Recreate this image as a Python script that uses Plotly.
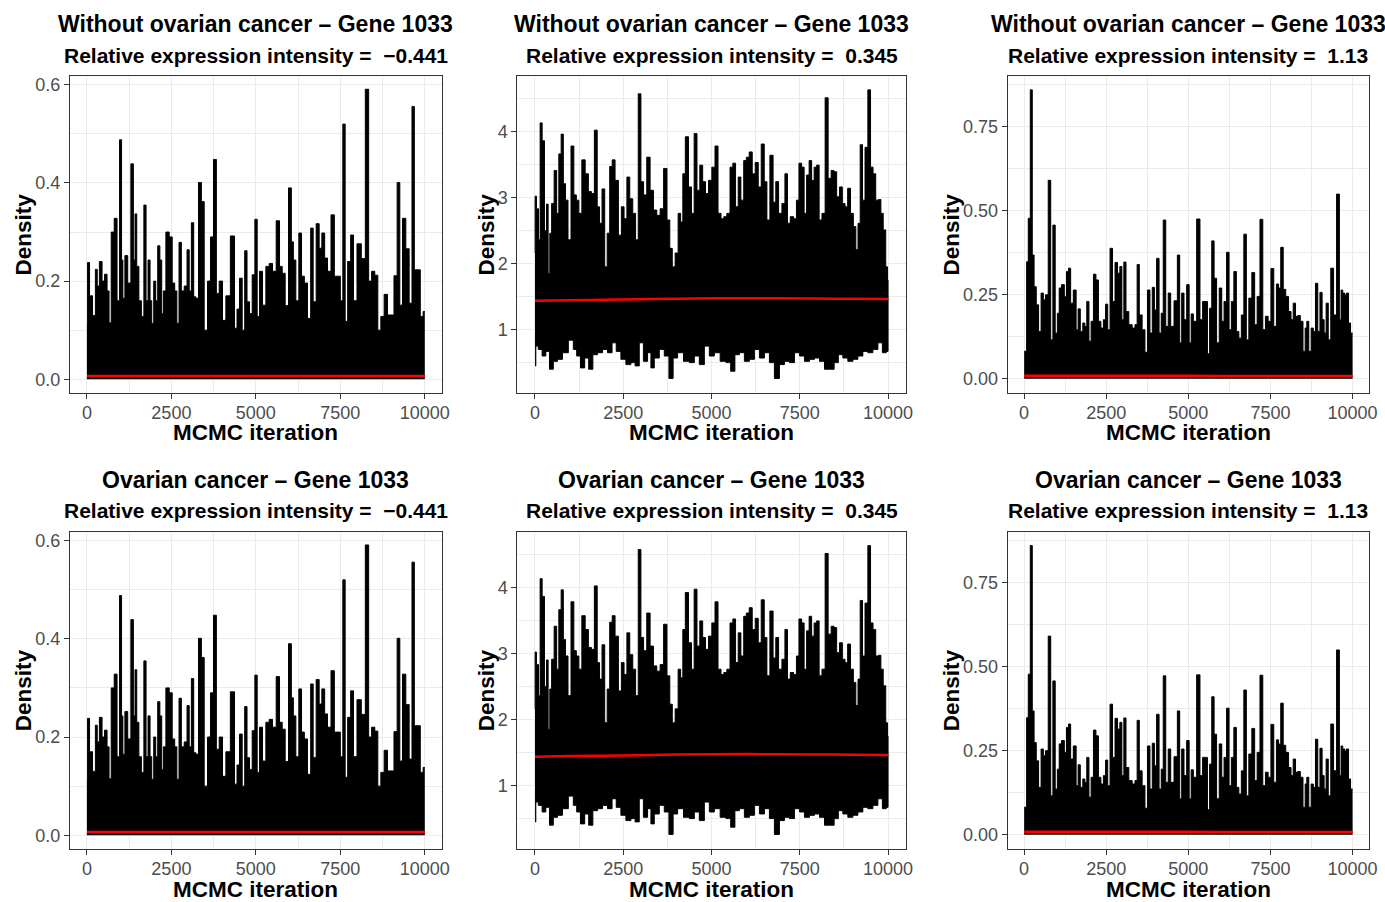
import plotly.graph_objects as go

# ---------------------------------------------------------------------------
# Posterior density traces for gene 1033 at three expression intensities.
# Each trace is stored as its visible upper edge (and lower edge where the
# trace does not sit on zero), keyed by MCMC iteration.
# ---------------------------------------------------------------------------

intensity_labels = ["\u22120.441", "0.345", "1.13"]
groups = ["Without ovarian cancer", "Ovarian cancer"]
gene = "Gene 1033"

# intensity -0.441
p1_iter = [1, 39, 118, 217, 286, 325, 414, 483, 562, 631, 680, 759, 858, 927, 1006, 1045,
           1085, 1164, 1252, 1351, 1400, 1450, 1499, 1578, 1647, 1726, 1775, 1844, 1894, 1943,
           2012, 2061, 2130, 2189, 2239, 2288, 2387, 2485, 2564, 2633, 2692, 2761, 2830, 2929,
           2998, 3057, 3126, 3195, 3254, 3353, 3422, 3521, 3619, 3698, 3797, 3866, 3964, 4063,
           4162, 4330, 4408, 4477, 4556, 4635, 4704, 4773, 4852, 4931, 5010, 5069, 5148, 5247,
           5345, 5444, 5543, 5661, 5740, 5819, 5917, 6016, 6085, 6134, 6233, 6312, 6391, 6479,
           6578, 6667, 6726, 6844, 6903, 7002, 7071, 7170, 7278, 7367, 7465, 7535, 7613, 7673,
           7761, 7850, 7929, 8057, 8185, 8294, 8383, 8471, 8570, 8649, 8748, 8846, 8945, 9043,
           9132, 9231, 9290, 9389, 9487, 9586, 9655, 9724, 9832, 9901, 10000]
p1_upper = [0.11, 0.238, 0.17, 0.13, 0.224, 0.19, 0.24, 0.2, 0.214, 0.18, 0.115, 0.30, 0.328,
            0.16, 0.488, 0.243, 0.165, 0.252, 0.196, 0.439, 0.243, 0.337, 0.23, 0.16, 0.128,
            0.355, 0.16, 0.243, 0.16, 0.114, 0.2, 0.16, 0.272, 0.243, 0.134, 0.18, 0.30, 0.29,
            0.196, 0.18, 0.114, 0.279, 0.18, 0.19, 0.264, 0.18, 0.319, 0.168, 0.165, 0.401,
            0.362, 0.1, 0.2, 0.29, 0.448, 0.175, 0.2, 0.12, 0.17, 0.292, 0.104, 0.143, 0.206,
            0.1, 0.262, 0.158, 0.134, 0.213, 0.326, 0.128, 0.22, 0.151, 0.23, 0.236, 0.22,
            0.323, 0.23, 0.216, 0.15, 0.39, 0.28, 0.243, 0.16, 0.298, 0.21, 0.196, 0.124, 0.308,
            0.158, 0.317, 0.267, 0.298, 0.247, 0.22, 0.335, 0.21, 0.21, 0.16, 0.52, 0.118, 0.24,
            0.294, 0.16, 0.276, 0.246, 0.591, 0.2, 0.22, 0.212, 0.1, 0.128, 0.173, 0.131, 0.131,
            0.211, 0.401, 0.151, 0.328, 0.266, 0.155, 0.556, 0.223, 0.223, 0.128, 0.138]

# intensity 0.345
p2_up_iter = [1, 9, 76, 123, 170, 236, 302, 350, 397, 444, 501, 586, 643, 709, 775, 832, 898,
              974, 1068, 1134, 1210, 1276, 1380, 1465, 1560, 1635, 1730, 1796, 1862, 1938, 2013,
              2079, 2155, 2221, 2316, 2410, 2486, 2561, 2647, 2722, 2817, 2883, 2968, 3034, 3119,
              3214, 3308, 3403, 3497, 3592, 3696, 3781, 3856, 3923, 4017, 4093, 4159, 4216, 4301,
              4395, 4471, 4546, 4631, 4707, 4792, 4868, 4962, 5057, 5142, 5227, 5312, 5388, 5482,
              5567, 5643, 5719, 5794, 5870, 5955, 6021, 6116, 6191, 6286, 6361, 6456, 6531, 6607,
              6701, 6787, 6853, 6947, 7042, 7117, 7184, 7278, 7373, 7439, 7514, 7590, 7656, 7732,
              7798, 7874, 7940, 8015, 8081, 8176, 8261, 8346, 8431, 8507, 8583, 8668, 8743, 8819,
              8894, 8979, 9055, 9121, 9178, 9244, 9310, 9386, 9471, 9537, 9613, 9688, 9764, 9830,
              9896, 9972, 10000]
p2_upper = [2.16, 3.02, 2.83, 2.36, 4.13, 3.86, 2.5, 2.9, 1.85, 2.46, 2.91, 3.41, 2.76, 3.66,
            3.96, 3.21, 2.96, 2.36, 3.78, 3.04, 2.96, 2.76, 3.57, 3.36, 3.09, 3.06, 4.02, 2.86,
            2.61, 3.13, 1.95, 2.46, 3.47, 3.57, 3.26, 2.43, 2.86, 2.68, 3.31, 2.98, 2.76, 2.36,
            4.57, 3.24, 3.04, 3.61, 3.11, 2.81, 2.73, 2.83, 3.44, 2.66, 2.23, 1.95, 2.16, 2.76,
            2.63, 3.36, 3.92, 3.16, 2.76, 3.97, 3.11, 3.49, 3.24, 3.06, 3.26, 3.46, 3.78, 2.76,
            2.68, 2.71, 2.76, 3.46, 3.52, 2.86, 3.31, 2.96, 3.56, 3.61, 3.69, 3.36, 3.53, 3.16,
            3.81, 3.24, 2.66, 3.64, 2.93, 3.24, 2.76, 2.91, 3.36, 2.61, 2.71, 2.68, 2.96, 3.52,
            3.46, 2.76, 3.34, 3.56, 3.26, 3.46, 3.49, 2.66, 2.76, 4.51, 3.29, 3.41, 3.39, 3.01,
            3.16, 2.91, 2.86, 3.14, 2.76, 2.56, 2.21, 2.61, 3.80, 2.96, 3.76, 4.63, 3.46, 3.36,
            2.96, 2.97, 2.76, 2.51, 1.95, 1.75]
p2_lo_iter = [1, 47, 142, 265, 350, 473, 567, 709, 851, 1040, 1134, 1229, 1352, 1465, 1578,
              1701, 1843, 1985, 2127, 2240, 2363, 2505, 2647, 2788, 2883, 3025, 3119, 3261, 3308,
              3450, 3592, 3733, 3856, 3970, 4112, 4301, 4442, 4584, 4726, 4868, 5010, 5151, 5340,
              5482, 5605, 5719, 5860, 6002, 6144, 6286, 6427, 6569, 6711, 6853, 6994, 7136, 7278,
              7420, 7562, 7703, 7845, 7987, 8129, 8271, 8412, 8535, 8649, 8790, 8932, 9074, 9216,
              9357, 9499, 9641, 9783, 9896, 10000]
p2_lower = [0.45, 0.75, 0.70, 0.6, 0.67, 0.40, 0.52, 0.55, 0.65, 0.84, 0.7, 0.6, 0.42, 0.57,
            0.40, 0.62, 0.65, 0.7, 0.65, 0.8, 0.67, 0.55, 0.47, 0.5, 0.45, 0.8, 0.52, 0.65, 0.42,
            0.57, 0.7, 0.6, 0.26, 0.57, 0.65, 0.52, 0.5, 0.6, 0.47, 0.75, 0.6, 0.65, 0.52, 0.5,
            0.37, 0.62, 0.65, 0.52, 0.55, 0.7, 0.57, 0.65, 0.5, 0.26, 0.47, 0.52, 0.5, 0.65, 0.6,
            0.52, 0.55, 0.57, 0.52, 0.40, 0.40, 0.5, 0.62, 0.57, 0.52, 0.55, 0.6, 0.67, 0.65,
            0.7, 0.8, 0.65, 0.67]

# intensity 1.13
p3_iter = [1, 51, 101, 152, 223, 273, 334, 405, 476, 557, 617, 688, 779, 840, 911, 982, 1042,
           1093, 1184, 1265, 1316, 1386, 1447, 1548, 1619, 1670, 1751, 1822, 1872, 1943, 2004,
           2075, 2146, 2227, 2297, 2378, 2449, 2510, 2581, 2651, 2732, 2803, 2884, 2945, 3006,
           3066, 3137, 3238, 3340, 3410, 3471, 3542, 3643, 3714, 3795, 3866, 3937, 3997, 4068,
           4149, 4200, 4271, 4352, 4422, 4503, 4625, 4706, 4767, 4827, 4908, 4989, 5060, 5111,
           5192, 5313, 5394, 5475, 5546, 5617, 5677, 5748, 5819, 5900, 5981, 6052, 6123, 6204,
           6274, 6345, 6426, 6497, 6578, 6649, 6730, 6801, 6882, 6983, 7054, 7135, 7226, 7307,
           7388, 7469, 7560, 7641, 7722, 7772, 7853, 7924, 8005, 8096, 8157, 8228, 8298, 8369,
           8450, 8531, 8582, 8632, 8703, 8774, 8835, 8906, 8976, 9037, 9108, 9159, 9230, 9290,
           9381, 9462, 9563, 9634, 9665, 9735, 9786, 9847, 9908, 9969, 10000]
p3_upper = [0.082, 0.082, 0.348, 0.477, 0.859, 0.368, 0.274, 0.22, 0.141, 0.255, 0.235, 0.25,
            0.59, 0.116, 0.457, 0.136, 0.195, 0.27, 0.28, 0.245, 0.319, 0.329, 0.225, 0.264,
            0.146, 0.208, 0.141, 0.166, 0.156, 0.23, 0.112, 0.171, 0.311, 0.294, 0.171, 0.151,
            0.176, 0.222, 0.146, 0.388, 0.23, 0.346, 0.314, 0.334, 0.176, 0.347, 0.2, 0.161,
            0.151, 0.161, 0.34, 0.19, 0.146, 0.079, 0.264, 0.136, 0.272, 0.205, 0.358, 0.136,
            0.195, 0.472, 0.156, 0.255, 0.156, 0.232, 0.368, 0.107, 0.255, 0.176, 0.28, 0.107,
            0.193, 0.171, 0.475, 0.176, 0.23, 0.23, 0.075, 0.21, 0.41, 0.299, 0.107, 0.27,
            0.171, 0.23, 0.376, 0.146, 0.23, 0.319, 0.141, 0.121, 0.19, 0.43, 0.116, 0.24, 0.316,
            0.161, 0.245, 0.474, 0.146, 0.186, 0.171, 0.328, 0.156, 0.282, 0.27, 0.391, 0.266,
            0.245, 0.2, 0.176, 0.225, 0.186, 0.188, 0.171, 0.082, 0.151, 0.171, 0.082, 0.151,
            0.141, 0.284, 0.141, 0.257, 0.176, 0.136, 0.225, 0.116, 0.329, 0.19, 0.549, 0.176,
            0.264, 0.255, 0.25, 0.255, 0.166, 0.136, 0.136]

# smoothed running mean of each trace
smooth_iter = [1, 1000, 2000, 3000, 4000, 5000, 6000, 7000, 8000, 9000, 10000]
p1_smooth = [0.0068, 0.0068, 0.0068, 0.0068, 0.0068, 0.0068, 0.0068, 0.0068, 0.0068, 0.0068, 0.0068]
p2_smooth = [1.437, 1.445, 1.452, 1.460, 1.468, 1.474, 1.476, 1.474, 1.470, 1.466, 1.462]
p3_smooth = [0.0092, 0.0091, 0.0090, 0.0090, 0.0089, 0.0089, 0.0088, 0.0088, 0.0087, 0.0087, 0.0086]

# axes
x_ticks = [0, 2500, 5000, 7500, 10000]
x_labels = ["0", "2500", "5000", "7500", "10000"]
x_minor = [1250, 3750, 6250, 8750]

y_ranges = [[-0.028, 0.618], [0.04, 4.84], [-0.042, 0.9]]
y_ticks = [[0.0, 0.2, 0.4, 0.6], [1, 2, 3, 4], [0.0, 0.25, 0.5, 0.75]]
y_labels = [["0.0", "0.2", "0.4", "0.6"], ["1", "2", "3", "4"], ["0.00", "0.25", "0.50", "0.75"]]
y_minor = [[0.1, 0.3, 0.5], [0.5, 1.5, 2.5, 3.5, 4.5], [0.125, 0.375, 0.625, 0.875]]

# page geometry (pixels)
W, H = 1385, 902
col_px = [(70, 441.7), (517.3, 905.7), (1007.7, 1369)]
row_px = [(76, 393), (531.7, 849)]
density_x = [23, 486, 951]

FONT = "Liberation Sans, Arial, Helvetica, sans-serif"
GRID = "#EBEBEB"
FRAME = "#333333"

fig = go.Figure()
layout = dict(
    width=W, height=H, autosize=False,
    margin=dict(l=0, r=0, t=0, b=0, autoexpand=False),
    paper_bgcolor="white", plot_bgcolor="white",
    showlegend=False,
    font=dict(family=FONT),
)
annotations = []

for r, group in enumerate(groups):
    for c in range(3):
        n = r * 3 + c + 1
        xa = "x" if n == 1 else f"x{n}"
        ya = "y" if n == 1 else f"y{n}"
        x0, x1 = col_px[c]
        y0, y1 = row_px[r]

        # trace body
        if c == 0:
            tx, ty, fill = p1_iter, p1_upper, "tozeroy"
            sm = p1_smooth
        elif c == 1:
            tx = p2_up_iter + p2_lo_iter[::-1]
            ty = p2_upper + p2_lower[::-1]
            fill = "toself"
            sm = p2_smooth
        else:
            tx, ty, fill = p3_iter, p3_upper, "tozeroy"
            sm = p3_smooth

        fig.add_trace(go.Scatter(
            x=tx, y=ty, xaxis=xa, yaxis=ya, mode="lines",
            line=dict(color="black", width=1.0, shape="hvh"),
            fill=fill, fillcolor="black", hoverinfo="skip",
        ))
        fig.add_trace(go.Scatter(
            x=smooth_iter, y=sm, xaxis=xa, yaxis=ya, mode="lines",
            line=dict(color="#FF0000", width=2.5, shape="spline"),
            hoverinfo="skip",
        ))

        common = dict(
            ticks="outside", ticklen=5, tickwidth=1.1, tickcolor=FRAME,
            tickfont=dict(size=18, color="#4D4D4D", family=FONT),
            showgrid=True, gridcolor=GRID, gridwidth=1.1,
            showline=True, mirror=True, linecolor=FRAME, linewidth=1.1,
            zeroline=False, fixedrange=True, automargin=False,
        )
        layout["xaxis" if n == 1 else f"xaxis{n}"] = dict(
            common, domain=[x0 / W, x1 / W], anchor=ya, range=[-500, 10500],
            tickmode="array", tickvals=x_ticks, ticktext=x_labels,
            ticklabelstandoff=-2,
            minor=dict(tickvals=x_minor, showgrid=True, gridcolor=GRID, gridwidth=0.55),
        )
        layout["yaxis" if n == 1 else f"yaxis{n}"] = dict(
            common, domain=[1 - y1 / H, 1 - y0 / H], anchor=xa, range=y_ranges[c],
            tickmode="array", tickvals=y_ticks[c], ticktext=y_labels[c],
            minor=dict(tickvals=y_minor[c], showgrid=True, gridcolor=GRID, gridwidth=0.55),
        )

        cx = (x0 + x1) / 2 / W
        # panel title and subtitle
        annotations.append(dict(
            text=f"<b>{group} \u2013 {gene}</b>", x=cx, y=1 - (y0 - 52) / H,
            xref="paper", yref="paper", xanchor="center", yanchor="middle",
            showarrow=False, font=dict(size=23, color="black", family=FONT),
        ))
        annotations.append(dict(
            text=f"<b>Relative expression intensity =\u00a0 {intensity_labels[c]}</b>",
            x=cx, y=1 - (y0 - 21) / H,
            xref="paper", yref="paper", xanchor="center", yanchor="middle",
            showarrow=False, font=dict(size=21, color="black", family=FONT),
        ))
        # axis titles
        annotations.append(dict(
            text="<b>MCMC iteration</b>", x=cx, y=1 - (y1 + 40) / H,
            xref="paper", yref="paper", xanchor="center", yanchor="middle",
            showarrow=False, font=dict(size=22.5, color="black", family=FONT),
        ))
        annotations.append(dict(
            text="<b>Density</b>", x=density_x[c] / W, y=1 - (y0 + y1) / 2 / H,
            xref="paper", yref="paper", xanchor="center", yanchor="middle",
            textangle=-90, showarrow=False,
            font=dict(size=22.5, color="black", family=FONT),
        ))

layout["annotations"] = annotations
fig.update_layout(**layout)
fig.write_html("out.html", config={"responsive": False})
